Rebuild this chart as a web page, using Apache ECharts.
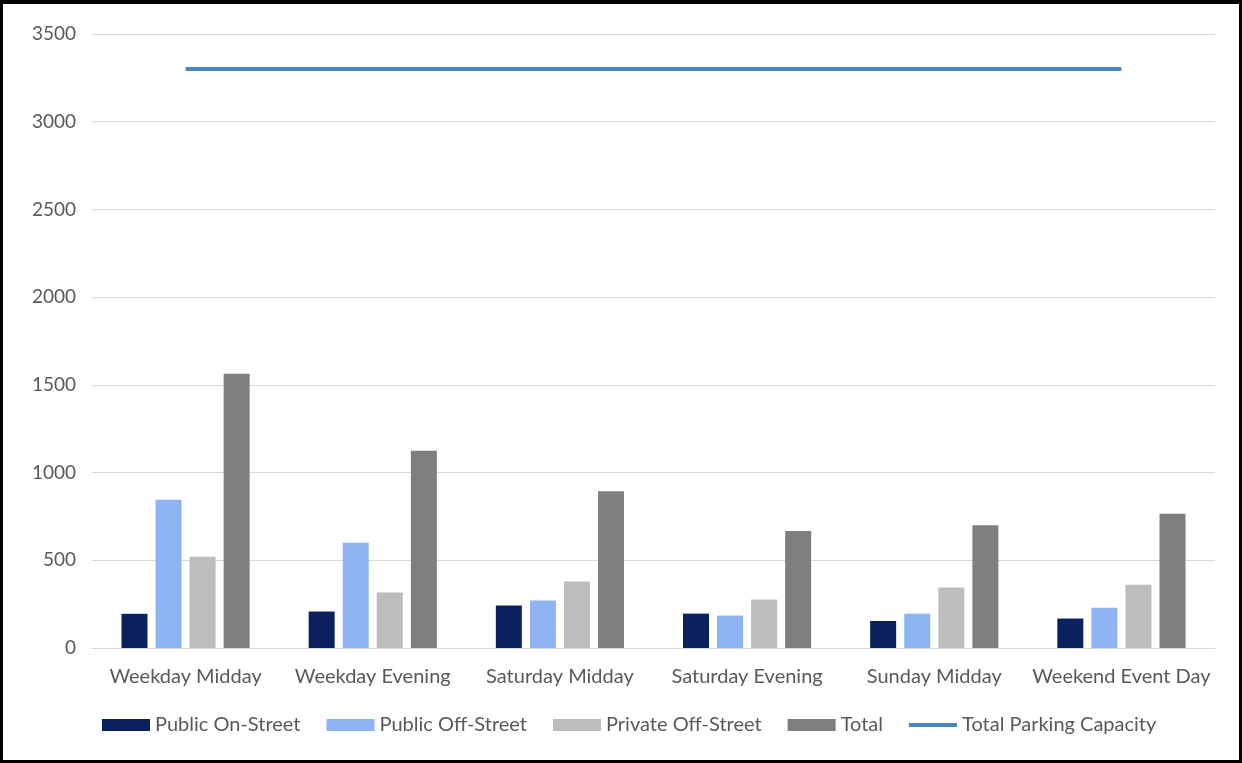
<!DOCTYPE html>
<html>
<head>
<meta charset="utf-8">
<script src="https://cdn.jsdelivr.net/npm/echarts@6/dist/echarts.min.js"></script>
<style>
  html, body { margin: 0; padding: 0; background: #fff; }
  #frame {
    width: 1242px; height: 763px; box-sizing: border-box;
    border: 3px solid #000; border-top-width: 4px; background: #fff;
  }
  #chart { width: 1236px; height: 756px; }
</style>
</head>
<body>
<div id="frame"><div id="chart"></div></div>
<script>
// Parking demand by time period
const categories = ['Weekday Midday', 'Weekday Evening', 'Saturday Midday',
                    'Saturday Evening', 'Sunday Midday', 'Weekend Event Day'];
const publicOnStreet   = [195, 208, 242, 196, 154, 168];
const publicOffStreet  = [845, 600, 271, 185, 196, 229];
const privateOffStreet = [520, 317, 379, 276, 345, 360];
const total            = [1563, 1125, 894, 667, 700, 765];
const totalCapacity    = [3300, 3300, 3300, 3300, 3300, 3300];
const yTicks = { min: 0, max: 3500, interval: 500 };

const textColor = '#595959';
const fontFamily = 'Lato, "Open Sans", sans-serif';

const chart = echarts.init(document.getElementById('chart'), null, { renderer: 'canvas' });

function barSeries(name, data, color) {
  return {
    name, type: 'bar', data,
    barWidth: 26, barGap: '31%',
    itemStyle: { color },
    emphasis: { disabled: true }
  };
}

chart.setOption({
  animation: false,
  textStyle: { fontFamily },
  grid: { left: 89, right: 24, top: 30, bottom: 112 },
  xAxis: {
    type: 'category',
    data: categories,
    axisLine: { lineStyle: { color: '#d9d9d9', width: 1 } },
    axisTick: { show: false },
    axisLabel: { color: textColor, fontSize: 20, margin: 19, fontFamily, interval: 0 }
  },
  yAxis: {
    type: 'value',
    min: yTicks.min, max: yTicks.max, interval: yTicks.interval,
    axisLine: { show: false },
    axisTick: { show: false },
    axisLabel: {
      color: textColor, fontSize: 19, margin: 16, fontFamily,
      formatter: (v) => String(v)
    },
    splitLine: { lineStyle: { color: '#d9d9d9', width: 1 } }
  },
  legend: {
    bottom: 20, left: 94,
    itemWidth: 48, itemHeight: 12, itemGap: 26,
    textStyle: { color: textColor, fontSize: 20, fontFamily },
    data: [
      { name: 'Public On-Street', icon: 'rect' },
      { name: 'Public Off-Street', icon: 'rect' },
      { name: 'Private Off-Street', icon: 'rect' },
      { name: 'Total', icon: 'rect' },
      { name: 'Total Parking Capacity', icon: 'path://M0,0h48v4h-48z' }
    ]
  },
  series: [
    barSeries('Public On-Street', publicOnStreet, '#0a215e'),
    barSeries('Public Off-Street', publicOffStreet, '#8fb4f3'),
    barSeries('Private Off-Street', privateOffStreet, '#bdbdbd'),
    barSeries('Total', total, '#7f7f7f'),
    {
      name: 'Total Parking Capacity', type: 'line', data: totalCapacity,
      symbol: 'none', showSymbol: false,
      lineStyle: { color: '#4a86c5', width: 4 },
      itemStyle: { color: '#4a86c5' },
      emphasis: { disabled: true }
    }
  ]
});
</script>
</body>
</html>
